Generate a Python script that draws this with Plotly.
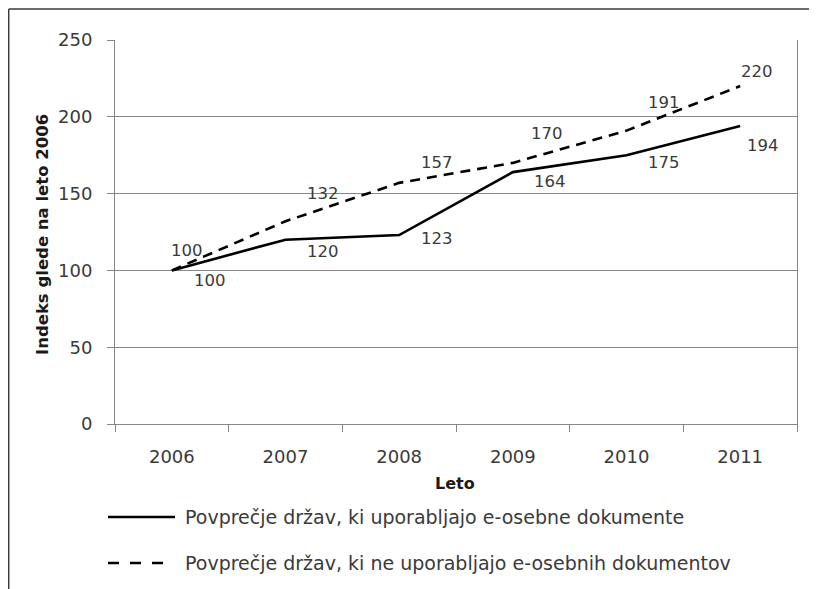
import plotly.graph_objects as go

# ---- data ----
years = ["2006", "2007", "2008", "2009", "2010", "2011"]
with_eid = [100, 120, 123, 164, 175, 194]       # solid
without_eid = [100, 132, 157, 170, 191, 220]    # dashed
series_names = [
    "Povprečje držav, ki uporabljajo e-osebne dokumente",
    "Povprečje držav, ki ne uporabljajo e-osebnih dokumentov",
]
y_title = "Indeks glede na leto 2006"
x_title = "Leto"

# ---- layout constants (screen pixels; page body has an 8px margin) ----
OFF = 8
W, H = 817 - OFF, 589 - OFF
L, R, T, B = 115, 797, 40, 424
PW, PH = R - L, B - T

def px(xs):
    return (xs - L) / PW

def py(ys):
    return (B - ys) / PH

FONT = "DejaVu Sans"
TXT = "#3a3a3a"
GRID = "#878787"

fig = go.Figure()
fig.add_trace(go.Scatter(x=years, y=with_eid, mode="lines",
                         line=dict(color="black", width=2.6),
                         showlegend=False, name=series_names[0]))
fig.add_trace(go.Scatter(x=years, y=without_eid, mode="lines",
                         line=dict(color="black", width=2.6, dash="10px,7px"),
                         showlegend=False, name=series_names[1]))

# data labels: offsets in pixels (xshift, yshift); x given as category index
solid_off = [(38, -10), (37, -12), (38, -3), (37, -9), (37, -7), (23, -19)]
dash_off = [(15, 20), (37, 28), (38, 20), (34, 29), (37, 28), (17, 15)]
ann = []
for i, (v, (dx, dy)) in enumerate(zip(with_eid, solid_off)):
    ann.append(dict(x=i, y=v, text=str(v), showarrow=False, xshift=dx, yshift=dy,
                    font=dict(family=FONT, size=16.5, color=TXT)))
for i, (v, (dx, dy)) in enumerate(zip(without_eid, dash_off)):
    ann.append(dict(x=i, y=v, text=str(v), showarrow=False, xshift=dx, yshift=dy,
                    font=dict(family=FONT, size=16.5, color=TXT)))

# axis titles
ann.append(dict(xref="paper", yref="paper", x=px(42), y=py(235), text="<b>%s</b>" % y_title,
                textangle=-90, showarrow=False, xanchor="center", yanchor="middle",
                font=dict(family=FONT, size=16.5, color="#1a1a1a")))
ann.append(dict(xref="paper", yref="paper", x=px(455), y=py(483), text="<b>%s</b>" % x_title,
                showarrow=False, xanchor="center", yanchor="middle",
                font=dict(family=FONT, size=16, color="#1a1a1a")))

# legend text
for name, ys in zip(series_names, [517, 563]):
    ann.append(dict(xref="paper", yref="paper", x=px(183), y=py(ys), text=name,
                    showarrow=False, xanchor="left", yanchor="middle",
                    font=dict(family=FONT, size=19, color=TXT)))

shapes = [
    # legend samples
    dict(type="line", xref="paper", yref="paper", x0=px(108), x1=px(175), y0=py(517), y1=py(517),
         line=dict(color="black", width=2.6)),
    dict(type="line", xref="paper", yref="paper", x0=px(108), x1=px(164), y0=py(563), y1=py(563),
         line=dict(color="black", width=2.6, dash="11px,11px")),
    # outer frame (top and left)
    dict(type="line", xref="paper", yref="paper", x0=px(8.7), x1=px(817), y0=py(9), y1=py(9),
         line=dict(color="#3a3a3a", width=1.5)),
    dict(type="line", xref="paper", yref="paper", x0=px(8.7), x1=px(8.7), y0=py(9), y1=py(589),
         line=dict(color="#3a3a3a", width=1.5)),
]

fig.update_layout(
    width=W, height=H,
    margin=dict(l=L - OFF, r=(W + OFF) - R, t=T - OFF, b=(H + OFF) - B, pad=0),
    paper_bgcolor="white", plot_bgcolor="white",
    showlegend=False,
    annotations=ann, shapes=shapes,
    font=dict(family=FONT, size=18, color=TXT),
)
fig.update_xaxes(type="category", range=[-0.5, len(years) - 0.5], autorange=False,
                 tickson="boundaries", ticks="outside", ticklen=7, tickangle=0,
                 tickcolor=GRID, showline=True, linecolor=GRID, linewidth=1,
                 showgrid=False, ticklabelstandoff=16,
                 tickfont=dict(family=FONT, size=18, color=TXT))
fig.update_yaxes(range=[0, 250], dtick=50, ticks="outside", ticklen=7, tickcolor=GRID,
                 showline=True, linecolor=GRID, linewidth=1, mirror=True,
                 showgrid=True, gridcolor=GRID, gridwidth=1, zeroline=False,
                 ticklabelstandoff=11,
                 tickfont=dict(family=FONT, size=18, color=TXT))

fig.write_html("out.html")
